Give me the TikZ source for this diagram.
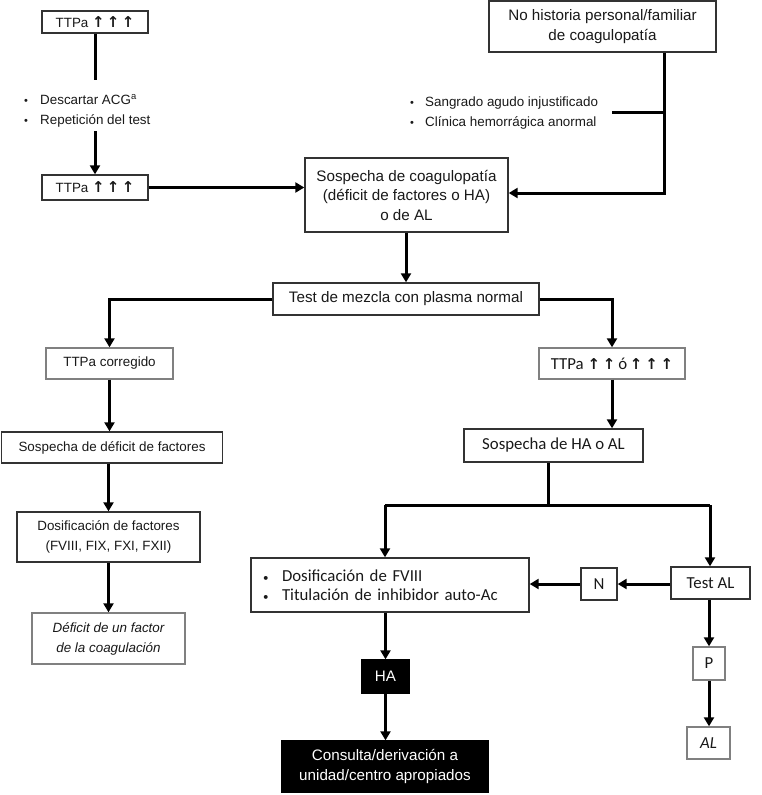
\documentclass[tikz,border=0pt]{standalone}
\usepackage{fontspec}
\setmainfont{Liberation Sans}
\newfontfamily\calfont{Carlito}
\newfontfamily\dvfont{DejaVu Sans}
\usetikzlibrary{arrows.meta}
\newcommand\upar{{\dvfont\bfseries\fontsize{15}{15}\selectfont ↑}}
\newcommand\smbul{{\fontsize{11}{11}\selectfont •}}
\begin{document}
\begin{tikzpicture}[x=1pt,y=-1pt,
  box/.style={draw=black!80, line width=1.4pt, fill=white, inner sep=0pt, align=center, text=black!90},
  lbox/.style={box, draw=black!50},
  dbox/.style={box, fill=black, draw=black, text=white},
  fA/.style={font=\fontsize{13.4}{20}\selectfont},
  fB/.style={font=\fontsize{15.2}{19.5}\selectfont},
  fC/.style={font=\calfont\fontsize{16.8}{19.5}\selectfont},
  arr/.style={line width=3pt, -{Triangle[length=9pt,width=10pt]}},
  ln/.style={line width=3pt},
  bul/.style={inner sep=0pt, align=left, text=black!90}]
\useasboundingbox (0,0) rectangle (761,795);

% nodes
\node[box, fA, minimum width=106, minimum height=22] (ttp1) at (95,22) {TTPa \upar\,\upar\,\upar};
\node[box, fA, minimum width=106, minimum height=25] (ttp2) at (95,187.5) {TTPa \upar\,\upar\,\upar};
\node[box, fB, minimum width=227, minimum height=51] (noh) at (602.5,26.5) {No historia personal/familiar\\de coagulopatía};
\node[box, fB, minimum width=203, minimum height=74] (sosp) at (406.5,195) {Sospecha de coagulopatía\\(déficit de factores o HA)\\o de AL};
\node[box, fB, minimum width=266, minimum height=32] (test) at (406,299) {Test de mezcla con plasma normal};
\node[lbox, fA, minimum width=127, minimum height=31] (ttpc) at (109.5,363.5) {TTPa corregido};
\node[box, fA, minimum width=221, minimum height=31] (sdef) at (112,447.5) {Sospecha de déficit de factores};
\node[box, fA, minimum width=183, minimum height=50] (dosf) at (108.5,537) {Dosificación de factores\\(FVIII, FIX, FXI, FXII)};
\node[lbox, fA, minimum width=153, minimum height=51] (defi) at (108.5,638.5) {\itshape Déficit de un factor\\\itshape de la coagulación};
\node[lbox, fC, minimum width=146, minimum height=31] (ttpr) at (612,363.5) {TTPa \upar\,\upar\,ó\,\upar\,\upar\,\upar};
\node[box, fC, minimum width=179, minimum height=33] (sha) at (553.5,445.5) {Sospecha de HA o AL};
\node[box, fC, text width=254, inner xsep=12pt, minimum height=54, align=left] (dos8) at (390,585) {\makebox[19pt][l]{\smbul}Dosificación de FVIII\\\makebox[19pt][l]{\smbul}Titulación de inhibidor auto-Ac};
\node[box, fC, minimum width=36, minimum height=32] (nbox) at (599,584) {N};
\node[box, fC, minimum width=79, minimum height=32] (tal) at (710.5,583) {Test AL};
\node[lbox, fC, minimum width=32, minimum height=33] (pbox) at (709,663.5) {P};
\node[lbox, fC, minimum width=43, minimum height=32] (al) at (708.5,743) {\itshape AL};
\node[dbox, fB, minimum width=47, minimum height=33] (ha) at (385.5,676.5) {HA};
\node[dbox, fB, minimum width=206, minimum height=51] (cons) at (385,766.5) {Consulta/derivación a\\unidad/centro apropiados};

% bullet lists
\node[bul, fA, anchor=west] (b1) at (24,110.5) {\makebox[16pt][l]{\smbul}Descartar ACG\textsuperscript{a}\\\makebox[16pt][l]{\smbul}Repetición del test};
\node[bul, fA, anchor=west] (b2) at (410,113) {\makebox[15pt][l]{\smbul}Sangrado agudo injustificado\\\makebox[15pt][l]{\smbul}Clínica hemorrágica anormal};

% helper coordinates
\coordinate (c1) at (95,80);
\coordinate (c2) at (95,131);
\coordinate (cn) at (664,193);
\coordinate (cb) at (612,112);
\coordinate (cs) at (548,505);
\coordinate (cl) at (385,505);
\coordinate (cr) at (710,505);
\coordinate (cy) at (0,584);

% connectors
\draw[ln] (ttp1.south) -- (c1);
\draw[arr] (c2) -- (ttp2.north);
\draw[arr] (ttp2.east) -- (ttp2.east -| sosp.west);
\draw[arr] (noh.south -| cn) -- (cn) -- (cn -| sosp.east);
\draw[ln] (cb) -- (cb -| cn);
\draw[arr] (sosp.south -| test.north) -- (test.north);
\draw[arr] (test.west) -| (ttpc.north);
\draw[arr] (test.east) -| (ttpr.north);
\draw[arr] (ttpc.south) -- (ttpc.south |- sdef.north);
\draw[arr] (dosf.north |- sdef.south) -- (dosf.north);
\draw[arr] (dosf.south) -- (defi.north);
\draw[arr] (ttpr.south) -- (ttpr.south |- sha.north);
\draw[ln] (sha.south -| cs) -- (cs);
\draw[ln] (cl) -- (cr);
\draw[arr] (cl) -- (cl |- dos8.north);
\draw[arr] (cr) -- (cr |- tal.north);
\draw[arr] (tal.west |- cy) -- (nbox.east |- cy);
\draw[arr] (nbox.west |- cy) -- (dos8.east |- cy);
\draw[arr] (tal.south -| pbox.north) -- (pbox.north);
\draw[arr] (pbox.south) -- (pbox.south |- al.north);
\draw[arr] (dos8.south -| ha.north) -- (ha.north);
\draw[arr] (ha.south) -- (ha.south |- cons.north);
\end{tikzpicture}
\end{document}
